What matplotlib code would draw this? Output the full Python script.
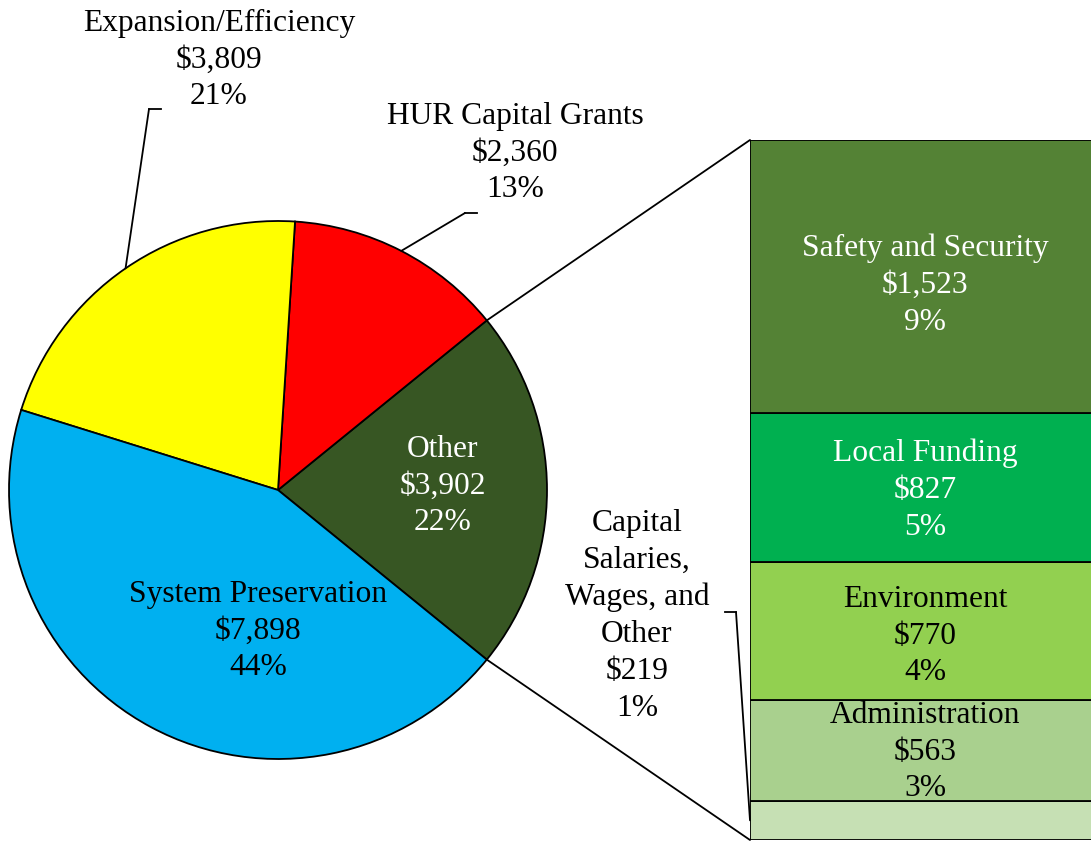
import numpy as np
import matplotlib
matplotlib.use("Agg")
import matplotlib.pyplot as plt
from matplotlib.patches import ConnectionPatch
from matplotlib.lines import Line2D

# Main pie (counter-clockwise from the "Other" slice)
pie_labels = ["Other", "HUR Capital Grants", "Expansion/Efficiency", "System Preservation"]
pie_values = [3902, 2360, 3809, 7898]
pie_pct = [22, 13, 21, 44]
pie_colors = ["#375623", "#FF0000", "#FFFF00", "#00B0F0"]

# Breakdown of "Other" (bottom to top in the bar)
bar_labels = ["Capital\nSalaries,\nWages, and\nOther", "Administration", "Environment",
              "Local Funding", "Safety and Security"]
bar_values = [219, 563, 770, 827, 1523]
bar_pct = [1, 3, 4, 5, 9]
bar_colors = ["#C6E0B4", "#A9D08E", "#92D050", "#00B050", "#548235"]
bar_text_colors = ["black", "black", "black", "white", "white"]

W, H = 1091, 841
FONT = "Liberation Serif"
FS = 22.7
LS = 1.36


def fx(x):
    return x / W


def fy(y):
    return 1 - y / H


def money(v):
    return "${:,}".format(v)


fig = plt.figure(figsize=(W / 100, H / 100), dpi=100)

# pie axes: centre (278, 490), radius 269 px
cx, cy, r = 278, 490, 269
ax1 = fig.add_axes([fx(cx - r), fy(cy + r), 2 * r / W, 2 * r / H])
total = sum(pie_values)
start = -360 * pie_values[0] / total / 2
wedges, _ = ax1.pie(pie_values, colors=pie_colors, startangle=start, counterclock=True,
                    wedgeprops=dict(edgecolor="black", linewidth=1.3))
ax1.set_xlim(-1, 1)
ax1.set_ylim(-1, 1)
ax1.set_aspect("equal")
ax1.axis("off")

# bar axes for the "Other" breakdown
bar_top, bar_bot = 140, 840
ax2 = fig.add_axes([fx(750), fy(bar_bot), 350 / W, (bar_bot - bar_top) / H])
other_total = sum(bar_values)
bottoms = np.concatenate([[0], np.cumsum(bar_values)[:-1]])
ax2.bar(0, bar_values, width=1, bottom=bottoms, align="edge", color=bar_colors,
        edgecolor="black", linewidth=1.3)
ax2.set_xlim(0, 1)
ax2.set_ylim(0, other_total)
ax2.axis("off")

# connector lines from the "Other" wedge to the bar
th1 = np.deg2rad(wedges[0].theta1)
th2 = np.deg2rad(wedges[0].theta2)
for th, yb in [(th2, other_total), (th1, 0)]:
    con = ConnectionPatch(xyA=(np.cos(th), np.sin(th)), coordsA=ax1.transData,
                          xyB=(0, yb), coordsB=ax2.transData,
                          color="black", linewidth=1.3)
    fig.add_artist(con)

# pie labels
txt_pos = {
    "Other": (443, 486, "white"),
    "HUR Capital Grants": (515, 153, "black"),
    "Expansion/Efficiency": (219, 60, "black"),
    "System Preservation": (258, 631, "black"),
}
for lab, v, p in zip(pie_labels, pie_values, pie_pct):
    x, y, c = txt_pos[lab]
    fig.text(fx(x), fy(y), "{}\n{}\n{}%".format(lab, money(v), p), ha="center", va="center",
             color=c, fontsize=FS, family=FONT, linespacing=LS)

# leader lines for the outside pie labels (elbow -> wedge mid angle)
leaders = {1: (465, 477, 213), 2: (149, 161, 109)}
for i, (ex, hx, ey) in leaders.items():
    w = wedges[i]
    mid = np.deg2rad((w.theta1 + w.theta2) / 2)
    con = ConnectionPatch(xyA=(np.cos(mid), np.sin(mid)), coordsA=ax1.transData,
                          xyB=(fx(ex), fy(ey)), coordsB=fig.transFigure,
                          color="black", linewidth=1.3)
    fig.add_artist(con)
    fig.add_artist(Line2D([fx(ex), fx(hx)], [fy(ey), fy(ey)], transform=fig.transFigure,
                          color="black", linewidth=1.3))

# bar labels
bar_txt_y = [616, 752, 636, 490, 285]
for i, (lab, v, p) in enumerate(zip(bar_labels, bar_values, bar_pct)):
    x = 637 if i == 0 else 925
    fig.text(fx(x), fy(bar_txt_y[i]), "{}\n{}\n{}%".format(lab, money(v), p), ha="center",
             va="center", color=bar_text_colors[i], fontsize=FS, family=FONT, linespacing=LS)

# leader for the small slice outside the bar
con = ConnectionPatch(xyA=(0, bar_values[0] / 2), coordsA=ax2.transData,
                      xyB=(fx(736), fy(612)), coordsB=fig.transFigure,
                      color="black", linewidth=1.3)
fig.add_artist(con)
fig.add_artist(Line2D([fx(725), fx(736)], [fy(612), fy(612)], transform=fig.transFigure,
                      color="black", linewidth=1.3))

fig.savefig("out.png", dpi=100)
